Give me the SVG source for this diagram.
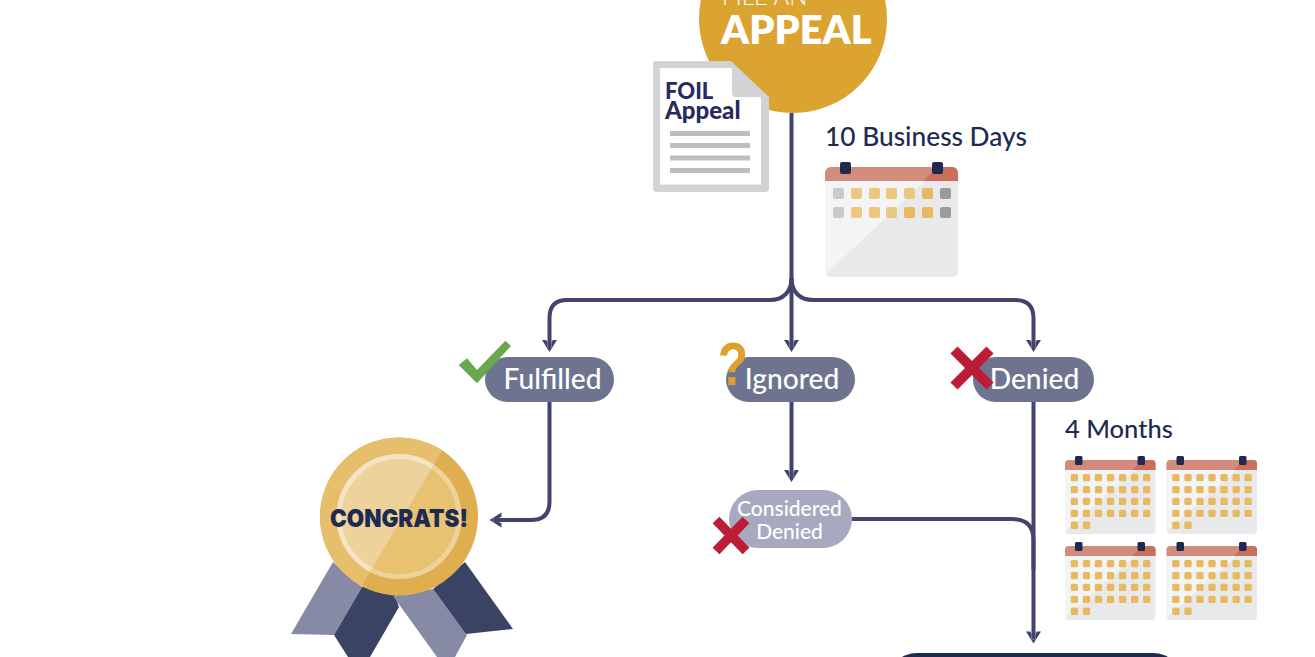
<svg xmlns="http://www.w3.org/2000/svg" xmlns:xlink="http://www.w3.org/1999/xlink" width="1315" height="657" viewBox="0 0 1315 657">
<style>
text{font-family:"Lato","Open Sans","Liberation Sans",sans-serif}
.conn{fill:none;stroke:#43436d;stroke-width:4}
.pill{fill:#6e748f}
.plabel{fill:#fff;font-size:28.200px;font-weight:500;text-anchor:middle}
.clabel{fill:#fff;font-size:21px;font-weight:500;text-anchor:middle}
.dur{fill:#1e2a52;font-size:26.300px;font-weight:500}
.x{stroke:#bc1c36;fill:none}
.y{fill:#e8b95e}.yl{fill:#ecc77e}.g{fill:#c9cacb}.gd{fill:#9b9b9b}
.pin{fill:#1e2a52}
</style>
<defs>
<marker id="arrow" markerUnits="userSpaceOnUse" markerWidth="20" markerHeight="20" refX="11" refY="10" orient="auto" overflow="visible">
<path d="M15 10 L3 2.500 L3 6.800 L5.500 8 H11 V12 H5.500 L3 13.200 L3 17.500 Z" fill="#43436d"/>
</marker>
<clipPath id="medal-light"><path d="M472.600 400 H300 V620 H341.200 Z"/></clipPath>
<g id="smallcal">
<rect x="0" y="0" width="90.500" height="74" rx="4" fill="#e8e9ea"/>
<path d="M0 72 L70 10 H0 Z" fill="#f3f4f5"/>
<path d="M0 10 V4 a4 4 0 0 1 4-4 H86.500 a4 4 0 0 1 4 4 V10 Z" fill="#d38b7b"/>
<path d="M67 10 L78 0 H86.500 a4 4 0 0 1 4 4 V10 Z" fill="#c96f5b"/>
<rect x="10" y="-4" width="7.500" height="9" rx="1.500" class="pin"/>
<rect x="72.500" y="-4" width="7.500" height="9" rx="1.500" class="pin"/>
<g id="row" class="y">
<rect x="5.700" y="14" width="7.300" height="7.300" rx="1.500"/><rect x="17.800" y="14" width="7.300" height="7.300" rx="1.500"/><rect x="29.800" y="14" width="7.300" height="7.300" rx="1.500"/><rect x="41.900" y="14" width="7.300" height="7.300" rx="1.500"/><rect x="53.900" y="14" width="7.300" height="7.300" rx="1.500"/><rect x="66" y="14" width="7.300" height="7.300" rx="1.500"/><rect x="78" y="14" width="7.300" height="7.300" rx="1.500"/>
</g>
<use href="#row" y="11.900"/><use href="#row" y="23.800"/><use href="#row" y="35.700"/>
<g class="y"><rect x="5.700" y="61.600" width="7.300" height="7.300" rx="1.500"/><rect x="17.800" y="61.600" width="7.300" height="7.300" rx="1.500"/></g>
</g>
</defs>

<g id="file-appeal">
<circle cx="793" cy="19" r="94" fill="#dba32f"/>
<text x="722" y="5" fill="#fff" font-size="24" font-weight="300">FILE AN</text>
<text x="721" y="43.500" fill="#fff" font-size="39.700" font-weight="800">APPEAL</text>
</g>

<g id="connectors">
<path class="conn" d="M791.500 113 V348" marker-end="url(#arrow)"/>
<path class="conn" d="M791.500 278 C791.500 292 783 300 770 300 H567 Q549.500 300 549.500 318 V348" marker-end="url(#arrow)"/>
<path class="conn" d="M791.500 278 C791.500 292 800 300 813 300 H1015 Q1033.500 300 1033.500 318 V348" marker-end="url(#arrow)"/>
<path class="conn" d="M549.500 402 V502 Q549.500 520 531 520 H493.500" marker-end="url(#arrow)"/>
<path class="conn" d="M791.500 402 V478" marker-end="url(#arrow)"/>
<path class="conn" d="M1033.500 402 V639.500" marker-end="url(#arrow)"/>
<path class="conn" d="M852 519 H1012 Q1033.500 519 1033.500 540 V570"/>
</g>

<g id="foil-appeal">
<path d="M656 61 H731 L769 97 V188 a4 4 0 0 1-4 4 H657 a4 4 0 0 1-4-4 V64 a3 3 0 0 1 3-3 Z" fill="#d1d3d4"/>
<path d="M660 68 H732 V93 a4 4 0 0 0 4 4 H761 V184.500 H660 Z" fill="#fff"/>
<text x="665" y="98.500" fill="#27295f" font-size="22" font-weight="900">FOIL</text>
<text x="665" y="119" fill="#27295f" font-size="24" font-weight="900">Appeal</text>
<g fill="#bcbec0"><rect x="670" y="131" width="80" height="5"/><rect x="670" y="143" width="80" height="5"/><rect x="670" y="155.500" width="80" height="5"/><rect x="670" y="168" width="80" height="5"/></g>
</g>

<g id="ten-days">
<text class="dur" x="825" y="146">10 Business Days</text>
<rect x="825" y="167" width="133" height="110" rx="6" fill="#e8e9ea"/>
<path d="M825 275 L925 181 H825 Z" fill="#f3f4f5"/>
<path d="M825 181 V173 a6 6 0 0 1 6-6 H952 a6 6 0 0 1 6 6 V181 Z" fill="#d38b7b"/>
<path d="M923 181 L938 167 H952 a6 6 0 0 1 6 6 V181 Z" fill="#c96f5b"/>
<rect x="840" y="162" width="11" height="12" rx="2" class="pin"/>
<rect x="932" y="162" width="11" height="12" rx="2" class="pin"/>
<g>
<rect x="833" y="188" width="11" height="11" rx="2" class="g"/><rect x="851" y="188" width="11" height="11" rx="2" class="yl"/><rect x="869" y="188" width="11" height="11" rx="2" class="yl"/><rect x="886" y="188" width="11" height="11" rx="2" class="yl"/><rect x="904" y="188" width="11" height="11" rx="2" class="yl"/><rect x="922" y="188" width="11" height="11" rx="2" class="y"/><rect x="940" y="188" width="11" height="11" rx="2" class="gd"/>
<rect x="833" y="207" width="11" height="11" rx="2" class="g"/><rect x="851" y="207" width="11" height="11" rx="2" class="yl"/><rect x="869" y="207" width="11" height="11" rx="2" class="yl"/><rect x="886" y="207" width="11" height="11" rx="2" class="yl"/><rect x="904" y="207" width="11" height="11" rx="2" class="y"/><rect x="922" y="207" width="11" height="11" rx="2" class="y"/><rect x="940" y="207" width="11" height="11" rx="2" class="gd"/>
</g>
</g>

<g id="fulfilled">
<rect class="pill" x="485" y="357" width="129" height="45" rx="22.500"/>
<text class="plabel" x="552.500" y="389">Fulfilled</text>
<path d="M458.700 365 L467 358.300 L477 370 L505.400 340.700 L511 346 L477 383.300 Z" fill="#6aa84f"/>
</g>

<g id="ignored">
<rect class="pill" x="726" y="357" width="129" height="45" rx="22.500"/>
<text class="plabel" x="792" y="389">Ignored</text>
<text transform="translate(733 385) scale(0.8 1)" fill="#dfa12d" font-size="62" font-weight="700" text-anchor="middle" style="font-family:'Liberation Sans',sans-serif">?</text>
</g>

<g id="denied">
<rect class="pill" x="973" y="357" width="121" height="45" rx="22.500"/>
<text class="plabel" x="1034.500" y="389" font-size="28">Denied</text>
<path class="x" stroke-width="10" d="M954 350 L990 386 M990 350 L954 386"/>
</g>

<g id="considered-denied">
<rect x="729" y="490" width="123" height="58" rx="29" fill="#a6a9bf"/>
<text class="clabel" x="789.500" y="515.500">Considered</text>
<text class="clabel" x="789.500" y="538.500">Denied</text>
<path class="x" stroke-width="9.500" d="M716 520 L746 551 M746 520 L716 551"/>
</g>

<g id="congrats">
<path d="M291 634 L333 562 L362 587 L334 635 Z" fill="#868aa4"/>
<path d="M334 635 L362 587 L393 590 L399 607 L370 657 L348 657 Z" fill="#3a4363"/>
<path d="M393 596 L433 589 L467 635 L455 657 L437 657 Z" fill="#868aa4"/>
<path d="M433 589 L465 562 L513 629 L466 634 Z" fill="#3a4363"/>
<circle cx="399" cy="516.500" r="79" fill="#deae4f"/>
<circle cx="399" cy="516.500" r="60" fill="#e6c271" stroke="#edd39b" stroke-width="5"/>
<g clip-path="url(#medal-light)">
<circle cx="399" cy="516.500" r="79" fill="#e6bf6c"/>
<circle cx="399" cy="516.500" r="60" fill="#edd39b" stroke="#f4e4c4" stroke-width="5"/>
</g>
<text x="399" y="527" fill="#1e2a52" font-size="24.500" font-weight="900" text-anchor="middle" style="font-family:Inter,'Liberation Sans',sans-serif" textLength="138" lengthAdjust="spacingAndGlyphs">CONGRATS!</text>
</g>

<g id="four-months">
<text class="dur" x="1065" y="438" style="font-size:25.500px">4 Months</text>
<use href="#smallcal" x="1065" y="460"/>
<use href="#smallcal" x="1166.500" y="460"/>
<use href="#smallcal" x="1065" y="546"/>
<use href="#smallcal" x="1166.500" y="546"/>
</g>

<g id="next-step">
<rect x="887" y="653" width="296" height="60" rx="30" fill="#1e2a52"/>
</g>
</svg>
